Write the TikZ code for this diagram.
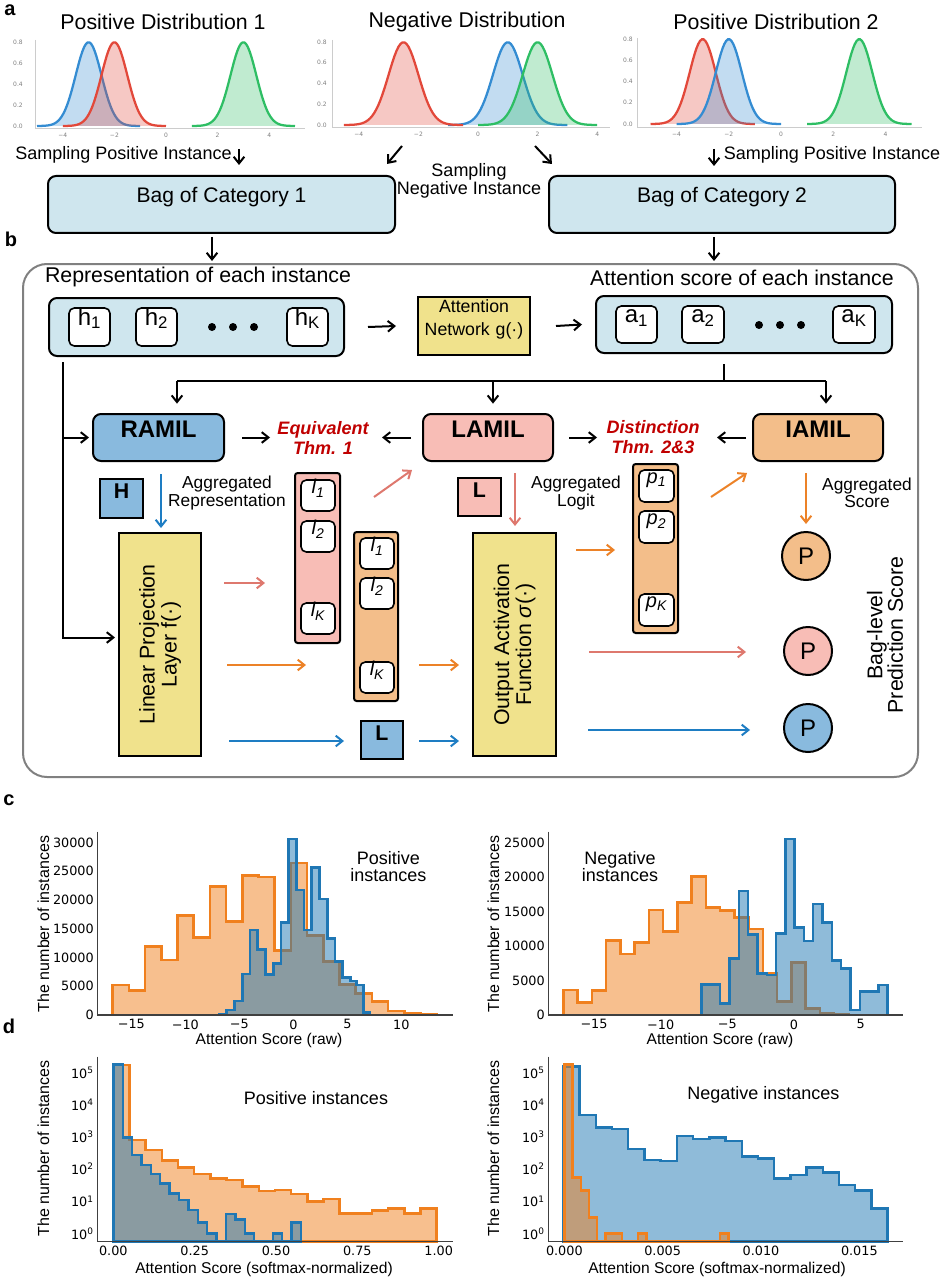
\documentclass[tikz,border=0pt]{standalone}
\usepackage{fontspec}
\setmainfont{Liberation Sans}
\newfontfamily\dejavu{DejaVu Sans}
\usetikzlibrary{arrows.meta,calc,fit}
\definecolor{lblue}{RGB}{207,230,238}
\definecolor{mblue}{RGB}{137,186,222}
\definecolor{mpink}{RGB}{248,189,182}
\definecolor{morange}{RGB}{243,190,138}
\definecolor{myellow}{RGB}{240,226,140}
\definecolor{thmred}{RGB}{192,0,0}
\definecolor{parrow}{RGB}{222,120,110}
\definecolor{oarrow}{RGB}{236,130,40}
\definecolor{barrow}{RGB}{30,125,195}
\definecolor{gblue}{RGB}{52,140,210}
\definecolor{gred}{RGB}{226,72,58}
\definecolor{ggreen}{RGB}{46,190,100}
\definecolor{horange}{RGB}{240,128,30}
\definecolor{hblue}{RGB}{31,119,180}
\definecolor{framegray}{RGB}{128,128,128}
\newcommand\fsz[2]{\fontsize{#1}{#2}\selectfont}
\newcommand\gcurve[4]{%
  \fill[#4, fill opacity=0.3] plot[domain=#2:#3,samples=60] (\x,{0.7979*exp(-2*(\x-(#1))^2)}) -- cycle;
  \draw[#4, line width=1.7pt] plot[domain=#2:#3,samples=60] (\x,{0.7979*exp(-2*(\x-(#1))^2)});
}
\newcommand\hpath[4]{(#1,#2) \foreach \e/\h in #3 {|- (\e,\h)} -- (#4,#2) -- cycle}
\def\cLo{387/600,435/617,484/485,532/525,581/392,630/457,678/305,727/410,775/272,824/276,873/497,921/234,970/452,1018/530,1067/598,1116/625,1164/650,1213/678,1261/684,1310/688}
\def\cLb{680/688,703/675,727/648,750/567,773/435,797/493,820/568,843/535,866/412,889/162,912/315,935/435,958/248,982/342,1005/460,1028/530,1051/578,1070/588,1090/600,1110/682}
\def\cRo{322.75/615,365.5/652,408.25/617,451/467,493.75/507,536.5/472,579.25/375,622/440,664.75/352,707.5/275,750.25/367,793/377,835.75/397,878.5/432,921.25/565,964/650,1006.75/533,1049.5/670,1092.25/686,1135/688}
\def\cRb{722.9/598,750.8/598,778.7/655,806.6/520,834.5/318,862.4/448,890.3/565,918.2/570,946.1/445,974/162,1001.9/428,1029.8/468,1057.7/357,1085.6/412,1113.5/527,1141.4/550,1169.3/675,1197.2/620,1225.1/620,1253/600}
\def\dLo{388.5/105,437/330,485.5/360,534/392,582.5/412,631/432,679.5/445,728/450,776.5/470,825/483,873.5/480,922/492,970.5/515,1019/507,1067.5/550,1116/550,1164.5/542,1213/535,1261.5/550,1310/535}
\def\dLb{368.2/103,396.3/322,424.5/375,452.6/405,480.8/432,508.9/460,537.1/490,565.2/510,593.4/540,621.5/578,649.7/610,677.8/635,706/552,734.1/568,762.3/610,790.4/635,818.6/635,846.7/610,874.9/635,903/578}
\def\dRb{328.7/110,377.3/255,426/292,474.6/297,523.3/357,571.9/390,620.6/393,669.2/318,717.9/327,766.5/323,815.2/333,863.8/380,912.5/385,961.1/445,1009.8/435,1058.4/413,1107.1/428,1155.7/465,1204.4/482,1253/535}
\def\dRo{307.6/103,332.2/443,356.8/482,381.4/562,406/635,430.6/610,455.2/610,479.8/635,504.4/635,529/610,553.6/635,578.2/635,602.8/635,627.4/635,652/635,676.6/635,701.2/635,725.8/635,750.4/635,775/610}
\tikzset{
  bx/.style={draw, line width=1.5pt, inner sep=0pt},
  rbx/.style={bx, rounded corners=6pt},
  ibx/.style={draw, line width=1.2pt, rounded corners=4pt, fill=white, inner sep=0pt, font=\fsz{18}{18}},
  lbx/.style={draw, line width=1.2pt, rounded corners=4pt, fill=white, inner sep=0pt, font=\fsz{15}{15}\itshape},
  colbx/.style={draw, line width=1.5pt, rounded corners=2pt, inner sep=0pt},
  arr/.style={line width=1.5pt, -{Straight Barb[length=5pt,width=8pt]}},
  blk/.style={arr, black},
  parr/.style={arr, parrow},
  oarr/.style={arr, oarrow},
  barr/.style={arr, barrow},
  ttl/.style={font=\fsz{16}{19}, inner sep=0pt},
  mid/.style={font=\fsz{13.5}{13.5}, inner sep=0pt, align=center},
  agg/.style={font=\fsz{13}{13}, inner sep=0pt, align=center},
  thm/.style={font=\fsz{13.5}{15}\bfseries\itshape, text=thmred, inner sep=0pt, align=center},
  big/.style={font=\fsz{16}{16.5}, inner sep=0pt, align=center},
  mil/.style={rbx, font=\fsz{18}{18}\bfseries},
  sq/.style={bx, font=\fsz{16}{16}\bfseries},
  pc/.style={circle, draw, line width=1.5pt, minimum size=36pt, inner sep=0pt, font=\fsz{18}{18}},
  atk/.style={font=\dejavu\fsz{4.5}{5}, text=gray, inner sep=0pt},
  axg/.style={draw=black!20, line width=0.6pt},
  spine/.style={line width=0.9pt, draw=black!75},
  tk/.style={font=\dejavu\fsz{9.6}{11}, inner sep=0pt},
  hlab/.style={font=\fsz{13.5}{12.75}, inner sep=0pt, align=center},
  axl/.style={font=\fsz{11.7}{12}, inner sep=0pt},
  yl/.style={font=\fsz{12}{12}, inner sep=0pt, rotate=90},
  plab/.style={font=\fsz{15}{15}\bfseries, inner sep=0.5pt},
  hor/.style={draw=horange, fill=horange, fill opacity=0.5, line width=1.8pt},
  hbl/.style={draw=hblue, fill=hblue, fill opacity=0.5, line width=1.8pt},
}
\begin{document}
\begin{tikzpicture}[x=0.75pt,y=-0.75pt]
\useasboundingbox (0,0) rectangle (940,1280);
% panel labels
\node[plab] at (10,10) {a};
\node[plab] at (11,239) {b};
\node[plab] at (9,800) {c};
\node[plab] at (9,1026) {d};

% ---------- panel a
\node[ttl] (t1) at (163,22) {Positive Distribution 1};
\node[ttl] (t2) at (467,22) {Negative Distribution};
\node[ttl] (t3) at (776,22) {Positive Distribution 2};

\draw[axg] (35,40) -- (35,128) -- (305,128);
\foreach \t [count=\i from 0] in {0.0,0.2,0.4,0.6,0.8} \node[atk] at (18,{126-21*\i}) {\t};
\foreach \t/\v in {−4/-4,−2/-2,0/0,2/2,4/4} \node[atk] at ({166+25.8*\v},135) {\t};
\begin{scope}[shift={(166,126)}, x=19.35pt, y=78.75pt]
  \gcurve{-3}{-5}{-1}{gblue}
  \gcurve{-2}{-4}{0}{gred}
  \gcurve{3}{1}{5}{ggreen}
\end{scope}

\draw[axg] (332,40) -- (332,127) -- (610,127);
\foreach \t [count=\i from 0] in {0.0,0.2,0.4,0.6,0.8} \node[atk] at (322,{125-20.75*\i}) {\t};
\foreach \t/\v in {−4/-4,−2/-2,0/0,2/2,4/4} \node[atk] at ({478+29.8*\v},134) {\t};
\begin{scope}[shift={(478,125)}, x=22.35pt, y=77.8pt]
  \gcurve{1}{-1}{3}{gblue}
  \gcurve{2}{0}{4}{ggreen}
  \gcurve{-2.5}{-4.5}{-0.5}{gred}
\end{scope}

\draw[axg] (637,38) -- (637,127) -- (922,127);
\foreach \t [count=\i from 0] in {0.0,0.2,0.4,0.6,0.8} \node[atk] at (628,{124-21.25*\i}) {\t};
\foreach \t/\v in {−4/-4,−2/-2,0/0,2/2,4/4} \node[atk] at ({781+26.1*\v},134) {\t};
\begin{scope}[shift={(781,124)}, x=19.575pt, y=79.7pt]
  \gcurve{-3}{-5}{-1}{gred}
  \gcurve{-2}{-4}{0}{gblue}
  \gcurve{3}{1}{5}{ggreen}
\end{scope}

% sampling
\node[rbx, fill=lblue, fit={(48,176)(395,233)}, font=\fsz{15.8}{16}] (bag1) {Bag of Category 1};
\node[rbx, fill=lblue, fit={(549,176)(895,233)}, font=\fsz{15.8}{16}] (bag2) {Bag of Category 2};
\node[mid] (sp1) at (123.5,155) {Sampling Positive Instance};
\node[mid] (sp2) at (832,155) {Sampling Positive Instance};
\node[mid] (sn) at (469,181) {Sampling\\Negative Instance};
\coordinate (d1) at (239,149);
\coordinate (d2a) at (402,146);
\coordinate (d2b) at (535,146);
\coordinate (d3) at (714,149);
\draw[blk] (d1) -- ($(bag1.north)+(17.5,-10)$);
\draw[blk] (d2a) -- ($(bag1.north east)+(-9,-11)$);
\draw[blk] (d2b) -- ($(bag2.north west)+(4,-11)$);
\draw[blk] (d3) -- ($(bag2.north)+(-8,-9)$);

% ---------- panel b
\node[draw=framegray, line width=1.5pt, rounded corners=18pt, inner sep=0pt, fit={(23,264)(918,777)}] (frame) {};
\draw[blk] ($(bag1.south)+(-9.5,3)$) -- ($(bag1.south |- frame.north)+(-9.5,-2)$);
\draw[blk] ($(bag2.south)+(-8,3)$) -- ($(bag2.south |- frame.north)+(-8,-2)$);

\node[ttl] (rt) at (198,277) {Representation of each instance};
\node[ttl] (at) at (742,278) {Attention score of each instance};

\node[rbx, fill=lblue, fit={(49,298)(344,356)}] (hbox) {};
\node[ibx, fit={(69,308)(110,346)}] (h1) {h\textsubscript{1}};
\node[ibx, fit={(136,308)(177,346)}] (h2) {h\textsubscript{2}};
\node[ibx, fit={(287,308)(328,346)}] (hK) {h\textsubscript{K}};
\foreach \x in {212,233,254} \fill (\x,327) circle[radius=3pt];

\node[bx, fill=myellow, fit={(418,297)(530,355)}, align=center, font=\fsz{13.3}{17}] (attnet) {Attention\\Network g(·)};

\node[rbx, fill=lblue, fit={(596,296)(892,353)}] (abox) {};
\node[ibx, fit={(616,306)(657,343)}] (a1) {a\textsubscript{1}};
\node[ibx, fit={(682,306)(724,343)}] (a2) {a\textsubscript{2}};
\node[ibx, fit={(833,306)(875,343)}] (aK) {a\textsubscript{K}};
\foreach \x in {759,780,801} \fill (\x,325) circle[radius=3pt];

\draw[blk] ($(hbox.east)+(23,0)$) -- ($(attnet.west)+(-21,0)$);
\draw[blk] ($(attnet.east)+(25,0)$) -- ($(abox.west)+(-13,0)$);

\node[mil, fill=mblue, fit={(93,414)(224,461)}] (ramil) {RAMIL};
\node[mil, fill=mpink, fit={(423,414)(553,461)}] (lamil) {LAMIL};
\node[mil, fill=morange, fit={(753,414)(883,461)}] (iamil) {IAMIL};
\node[thm] (equiv) at (323,438) {Equivalent\\Thm. 1};
\node[thm] (dist) at (653,437) {Distinction\\Thm. 2\&3};

\coordinate (split) at (724,381);
\coordinate (brR) at (177,381);
\coordinate (brL) at (493,381);
\coordinate (brI) at (826,381);
\draw[line width=1.5pt] ($(abox.south -| split)+(0,10)$) -- (split);
\draw[line width=1.5pt] (brR) -- (brI);
\draw[blk, shorten >=7pt] (brR) -- (brR |- ramil.north);
\draw[blk, shorten >=7pt] (brL) -- (brL |- lamil.north);
\draw[blk, shorten >=7pt] (brI) -- (brI |- iamil.north);

\draw[blk] ($(ramil.east)+(17,0)$) -- ++(28,0);
\draw[blk] ($(lamil.west)+(-11,0)$) -- ++(-29,0);
\draw[blk] ($(lamil.east)+(15,0)$) -- ++(28,0);
\draw[blk] ($(iamil.west)+(-6,0)$) -- ++(-29,0);

% lower part
\node[sq, fill=mblue, fit={(100,479)(143,518)}] (Hb) {H};
\node[agg] (aggr) at (227,493) {Aggregated\\Representation};
\node[bx, fill=myellow, fit={(119,533)(201,756)}] (linproj) {};
\node[big, rotate=90] at (linproj.center) {Linear Projection\\Layer f(·)};

\coordinate (lstart) at (63,362);
\draw[blk] (lstart) |- ($(linproj.west)+(-3,-7)$);
\draw[blk] (lstart |- ramil.west) -- ($(ramil.west)+(-3,0)$);

\node[colbx, fill=mpink, fit={(295,473)(340,643)}] (lcol1) {};
\node[lbx, fit={(301,480)(335,511)}] (l11) {l\textsubscript{1}};
\node[lbx, fit={(301,521)(335,552)}] (l12) {l\textsubscript{2}};
\node[lbx, fit={(301,603)(335,634)}] (l1K) {l\textsubscript{K}};

\node[colbx, fill=morange, fit={(354,532)(398,701)}] (lcol2) {};
\node[lbx, fit={(360,538)(394,569)}] (l21) {l\textsubscript{1}};
\node[lbx, fit={(360,578)(394,609)}] (l22) {l\textsubscript{2}};
\node[lbx, fit={(360,662)(394,693)}] (l2K) {l\textsubscript{K}};

\node[sq, fill=mblue, fit={(361,721)(403,759)}] (Lbl) {L};
\node[sq, fill=mpink, fit={(458,478)(501,516)}] (Lpk) {L};
\node[agg] (aggl) at (576,493) {Aggregated\\Logit};
\node[bx, fill=myellow, fit={(473,533)(556,756)}] (outact) {};
\node[big, rotate=90] at (outact.center) {Output Activation\\Function \textit{σ}(·)};

\node[colbx, fill=morange, fit={(633,464)(678,633)}] (pcol) {};
\node[lbx, fit={(639,470)(674,502)}] (p1) {p\textsubscript{1}};
\node[lbx, fit={(639,511)(674,543)}] (p2) {p\textsubscript{2}};
\node[lbx, fit={(639,594)(674,626)}] (pK) {p\textsubscript{K}};
\node[agg] (aggs) at (867,493) {Aggregated\\Score};

\node[pc, fill=morange] (Por) at (806,556) {P};
\node[pc, fill=mpink] (Ppk) at (808,651) {P};
\node[pc, fill=mblue] (Pbl) at (808,728) {P};
\node[big, rotate=90, font=\fsz{16}{15.5}] (bagpred) at (885,635) {Bag-level\\Prediction Score};

\draw[barr] ($(ramil.south)+(2.5,12)$) -- ++(0,54);
\draw[parr] ($(linproj.east)+(22,-61.5)$) -- ($(lcol1.west)+(-29,25)$);
\draw[oarr] ($(linproj.east)+(25,20.5)$) -- ($(lcol2.west)+(-47,48.5)$);
\draw[oarr] ($(lcol2.east)+(20,48.5)$) -- ($(outact.west)+(-13,20.5)$);
\draw[barr] ($(linproj.east)+(27,96.5)$) -- ($(Lbl.west)+(-16,1)$);
\draw[barr] ($(Lbl.east)+(15,1)$) -- ($(outact.west)+(-13,96.5)$);
\draw[parr] ($(lcol1.north east)+(33,25)$) -- ($(lamil.south west)+(-10,8)$);
\draw[parr] ($(lamil.south)+(27,11)$) -- ++(0,53);
\draw[oarr] ($(outact.east)+(19,-94.5)$) -- ($(pcol.west)+(-17,1.5)$);
\draw[oarr] ($(pcol.north east)+(32,34)$) -- ($(iamil.south west)+(-5,11)$);
\draw[oarr] ($(iamil.south)+(-12,11)$) -- ($(Por.north)+(0,-7)$);
\draw[parr] ($(outact.east)+(32,7.5)$) -- ($(Ppk.west)+(-37,1)$);
\draw[barr] ($(outact.east)+(31,85.5)$) -- ($(Pbl.west)+(-33,2)$);

% ---------- panel c left
\begin{scope}[shift={(0,785)}, x=0.25pt, y=-0.25pt]
  \draw[hor] \hpath{338}{690}{\cLo}{1310};
  \draw[hbl] \hpath{657}{690}{\cLb}{1110};
  \draw[spine] (292,140) -- (292,690) -- (1360,690);
  \foreach \t [count=\i from 0] in {0,5000,10000,15000,20000,25000,30000}
    \node[tk, anchor=east] at (282,{690-86.33*\i}) {\t};
  \foreach \t/\v in {−15/-15,−10/-10,−5/-5,0/0,5/5,10/10}
    \node[tk] at ({880+32.4*\v},718) {\t};
  \node[hlab] at (1165,245) {Positive\\instances};
  \node[axl] at (807,765) {Attention Score (raw)};
  \node[yl] at (130,417) {The number of instances};
\end{scope}
% ---------- panel c right
\begin{scope}[shift={(470,785)}, x=0.25pt, y=-0.25pt]
  \draw[hor] \hpath{280}{690}{\cRo}{1135};
  \draw[hbl] \hpath{695}{690}{\cRb}{1253};
  \draw[spine] (235,140) -- (235,690) -- (1300,690);
  \foreach \t [count=\i from 0] in {0,5000,10000,15000,20000,25000}
    \node[tk, anchor=east] at (225,{690-103.6*\i}) {\t};
  \foreach \t/\v in {−15/-15,−10/-10,−5/-5,0/0,5/5}
    \node[tk] at ({972+40*\v},718) {\t};
  \node[hlab] at (450,245) {Negative\\instances};
  \node[axl] at (750,765) {Attention Score (raw)};
  \node[yl] at (70,417) {The number of instances};
\end{scope}
% ---------- panel d left
\begin{scope}[shift={(0,1030)}, x=0.25pt, y=-0.25pt]
  \draw[hor] \hpath{340}{635}{\dLo}{1310};
  \draw[hbl] \hpath{340}{635}{\dLb}{903};
  \draw[spine] (292,80) -- (292,635) -- (1360,635);
  \foreach \i in {0,...,5}
    \node[tk, anchor=east] at (282,{610-96.3*\i}) {10\textsuperscript{\i}};
  \foreach \t [count=\i from 0] in {0.00,0.25,0.50,0.75,1.00}
    \node[tk] at ({340+244*\i},662) {\t};
  \node[hlab] at (948,205) {Positive instances};
  \node[axl] at (792,718) {Attention Score (softmax-normalized)};
  \node[yl] at (130,355) {The number of instances};
\end{scope}
% ---------- panel d right
\begin{scope}[shift={(470,1030)}, x=0.25pt, y=-0.25pt]
  \draw[hbl] \hpath{280}{635}{\dRb}{1253};
  \draw[hor] \hpath{283}{635}{\dRo}{775};
  \draw[spine] (235,80) -- (235,635) -- (1300,635);
  \foreach \i in {0,...,5}
    \node[tk, anchor=east] at (225,{610-96.3*\i}) {10\textsuperscript{\i}};
  \foreach \t [count=\i from 0] in {0.000,0.005,0.010,0.015}
    \node[tk] at ({283+295*\i},662) {\t};
  \node[hlab] at (880,195) {Negative instances};
  \node[axl] at (741,718) {Attention Score (softmax-normalized)};
  \node[yl] at (70,355) {The number of instances};
\end{scope}
\end{tikzpicture}
\end{document}
